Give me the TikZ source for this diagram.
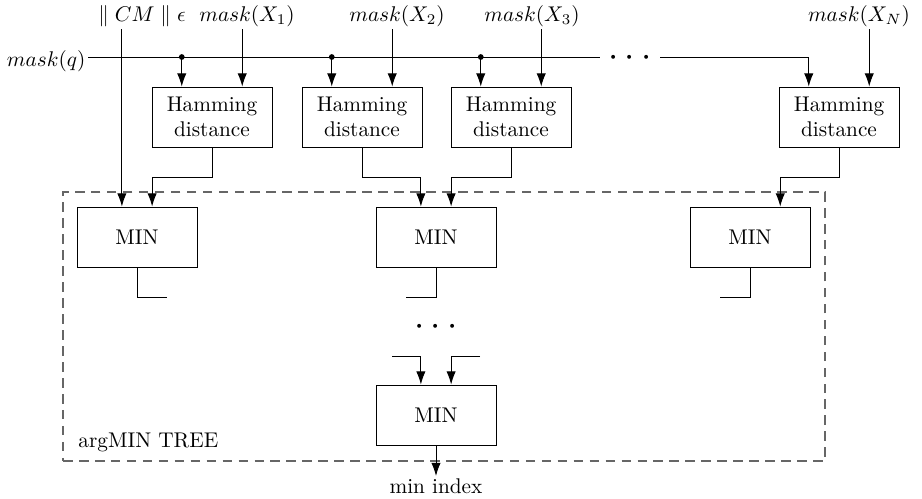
\documentclass[tikz,border=0pt]{standalone}
\usepackage{tikz}
\usetikzlibrary{arrows.meta,calc}

\begin{document}
\begin{tikzpicture}[
        x=0.47pt, y=-0.47pt,
        line width=0.45pt,
        hambox/.style={rectangle, draw, minimum width=56.4pt, minimum height=28.2pt, align=center},
        minbox/.style={rectangle, draw, minimum width=56.4pt, minimum height=28.2pt},
        inlabel/.style={inner sep=1pt},
        dotsnode/.style={font=\LARGE, text height=8.6pt, text depth=0pt, inner sep=0pt},
        treebox/.style={rectangle, draw=black!60, line width=0.6pt, dash pattern=on 4.5pt off 3pt, minimum width=358.1pt, minimum height=126.4pt},
        arrow/.style={-{Latex[length=6.2pt, width=4.4pt]}}
    ]
        \useasboundingbox (0,0) rectangle (922,498);

        % Inputs
        \node[inlabel, anchor=base east] (q) at (88,66) {$mask(q)$};
        \node[inlabel] (cm) at (142,16) {$\parallel CM \parallel \epsilon$};
        \node[inlabel] (x1) at (247,16) {$mask(X_1)$};
        \node[inlabel] (x2) at (397,16) {$mask(X_2)$};
        \node[inlabel] (x3) at (532,16) {$mask(X_3)$};
        \node[inlabel] (xn) at (859,16) {$mask(X_N)$};
        \node[dotsnode] (hdots) at (630,57) {$\cdots$};

        % Hamming distance units
        \node[hambox] (hd1) at (212,117) {Hamming\\distance};
        \node[hambox] (hd2) at (362,117) {Hamming\\distance};
        \node[hambox] (hd3) at (511,117) {Hamming\\distance};
        \node[hambox] (hdn) at (839,117) {Hamming\\distance};

        % argMIN tree
        \node[treebox] (tree) at (444,326.5) {};
        \node[anchor=base west, inner sep=0pt] (treelbl) at (78,447) {argMIN TREE};
        \node[minbox] (min1) at (137,237) {MIN};
        \node[minbox] (min2) at (436,237) {MIN};
        \node[minbox] (min3) at (750,237) {MIN};
        \node[dotsnode] (vdots) at (436,326) {$\cdots$};
        \node[minbox] (minr) at (436,415) {MIN};
        \node[inlabel, anchor=north] (minidx) at (436,476) {min index};

        % Input points
        \coordinate (hd1a) at ($(hd1.north)!.5!(hd1.north west)$);
        \coordinate (hd1b) at ($(hd1.north)!.5!(hd1.north east)$);
        \coordinate (hd2a) at ($(hd2.north)!.5!(hd2.north west)$);
        \coordinate (hd2b) at ($(hd2.north)!.5!(hd2.north east)$);
        \coordinate (hd3a) at ($(hd3.north)!.5!(hd3.north west)$);
        \coordinate (hd3b) at ($(hd3.north)!.5!(hd3.north east)$);
        \coordinate (hdna) at ($(hdn.north)!.5!(hdn.north west)$);
        \coordinate (hdnb) at ($(hdn.north)!.5!(hdn.north east)$);
        \coordinate (min1a) at ($(min1.north)!.25!(min1.north west)$);
        \coordinate (min1b) at ($(min1.north)!.25!(min1.north east)$);
        \coordinate (min2a) at ($(min2.north)!.25!(min2.north west)$);
        \coordinate (min2b) at ($(min2.north)!.25!(min2.north east)$);
        \coordinate (min3b) at ($(min3.north)!.5!(min3.north east)$);
        \coordinate (minra) at ($(minr.north)!.25!(minr.north west)$);
        \coordinate (minrb) at ($(minr.north)!.25!(minr.north east)$);
        \coordinate (inl) at (392,356);
        \coordinate (inr) at (480,356);

        % mask(q) bus
        \draw (q.east |- hdots) -- ([xshift=-4pt]hdots.west);
        \draw[arrow] ([xshift=4pt]hdots.east) -| (hdna);
        \fill (hd1a |- hdots) circle[radius=1.35pt];
        \fill (hd2a |- hdots) circle[radius=1.35pt];
        \fill (hd3a |- hdots) circle[radius=1.35pt];
        \draw[arrow] (hd1a |- hdots) -- (hd1a);
        \draw[arrow] (hd2a |- hdots) -- (hd2a);
        \draw[arrow] (hd3a |- hdots) -- (hd3a);

        % Stored masks
        \draw[arrow] (x1.south -| hd1b) -- (hd1b);
        \draw[arrow] (x2.south -| hd2b) -- (hd2b);
        \draw[arrow] (x3.south -| hd3b) -- (hd3b);
        \draw[arrow] (xn.south -| hdnb) -- (hdnb);
        \draw[arrow] (cm.south -| min1a) -- (min1a);

        % Hamming to MIN
        \draw[arrow] (hd1.south) -- ++(0,30) -| (min1b);
        \draw[arrow] (hd2.south) -- ++(0,30) -| (min2a);
        \draw[arrow] (hd3.south) -- ++(0,30) -| (min2b);
        \draw[arrow] (hdn.south) -- ++(0,30) -| (min3b);

        % MIN outputs
        \draw (min1.south) -- ++(0,30) -- ++(30,0);
        \draw (min2.south) -- ++(0,30) -- ++(-30,0);
        \draw (min3.south) -- ++(0,30) -- ++(-30,0);
        \draw[arrow] (inl) -| (minra);
        \draw[arrow] (inr) -| (minrb);
        \draw[arrow] (minr.south) -- (minidx.north);

    \end{tikzpicture}
\end{document}
